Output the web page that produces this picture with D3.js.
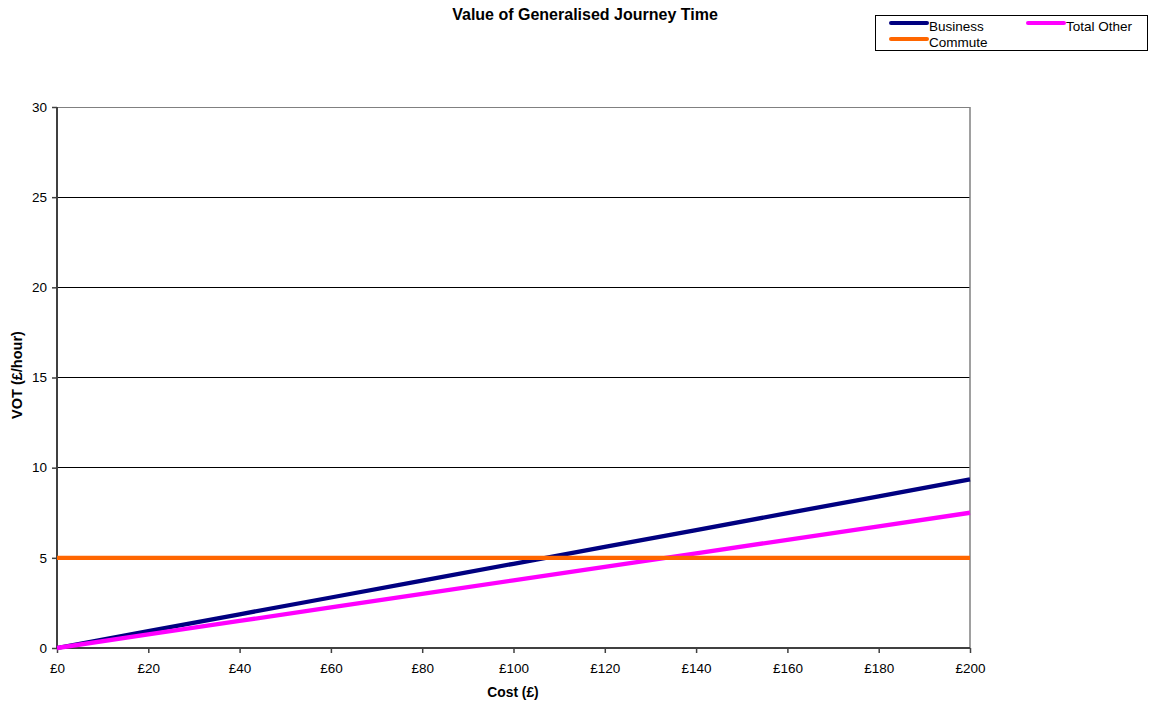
<!DOCTYPE html>
<html><head><meta charset="utf-8">
<script src="https://cdn.jsdelivr.net/npm/d3@7"></script>
<style>body{margin:0;background:#fff;font-family:"Liberation Sans",Arial,sans-serif;}</style>
</head><body>
<svg id="c" width="1149" height="703"></svg>
<script>
const costs = [0,20,40,60,80,100,120,140,160,180,200];
const business = [0,0.93,1.87,2.80,3.74,4.67,5.61,6.54,7.48,8.41,9.35];
const totalOther = [0,0.75,1.5,2.25,3.0,3.75,4.5,5.25,6.0,6.75,7.5];
const commute = [5,5,5,5,5,5,5,5,5,5,5];
const yTicks = [0,5,10,15,20,25,30];
const xTickLabels = costs.map(d=>"£"+d);

const svg = d3.select("#c");
const FF = "Liberation Sans, Arial, sans-serif";
svg.attr("font-family",FF);
const L=57,R=970,T=107,B=648;
const x = d3.scaleLinear().domain([0,200]).range([L,R]);
const y = d3.scaleLinear().domain([0,30]).range([B,T]);

// gridlines
svg.append("g").selectAll("line").data(yTicks.filter(d=>d>0)).join("line")
  .attr("x1",L).attr("x2",R).attr("y1",d=>y(d)).attr("y2",d=>y(d))
  .attr("stroke",d=>d===30?"#808080":"#000").attr("stroke-width",1).attr("shape-rendering","crispEdges");
// right border
svg.append("line").attr("x1",R).attr("x2",R).attr("y1",T).attr("y2",B).attr("stroke","#808080").attr("stroke-width",1.5);

// axes
const yAxis = d3.axisLeft(y).tickValues(yTicks).tickSize(5).tickPadding(5);
const gy = svg.append("g").attr("transform",`translate(${L},0)`).call(yAxis);
const xAxis = d3.axisBottom(x).tickValues(costs).tickFormat((d,i)=>xTickLabels[i]).tickSize(5).tickPadding(10);
const gx = svg.append("g").attr("transform",`translate(0,${B})`).call(xAxis);
[gx,gy].forEach(g=>{
  g.attr("font-family",FF).attr("font-size",13.5);
  g.select(".domain").attr("stroke","#404040").attr("stroke-width",2);
  g.selectAll(".tick line").attr("stroke","#404040").attr("stroke-width",1.5);
  g.selectAll("text").attr("fill","#000");
});
gy.select(".domain").attr("d",`M0,${T}V${B}`);
gx.select(".domain").attr("d",`M${L},0H${R}`);

const series = [
  {name:"Business", vals:business, color:"#000080"},
  {name:"Total Other", vals:totalOther, color:"#FF00FF"},
  {name:"Commute", vals:commute, color:"#FF6600"}
];
const line = d3.line().x((d,i)=>x(costs[i])).y(d=>y(d));
series.forEach(s=>{
  svg.append("path").datum(s.vals).attr("d",line).attr("fill","none")
    .attr("stroke",s.color).attr("stroke-width",4.3);
});

// title and axis labels
svg.append("text").attr("x",585).attr("y",20).attr("text-anchor","middle")
  .attr("font-size",16).attr("font-weight","bold").text("Value of Generalised Journey Time");
svg.append("text").attr("x",513).attr("y",697).attr("text-anchor","middle")
  .attr("font-size",13.8).attr("font-weight","bold").text("Cost (£)");
svg.append("text").attr("transform","translate(21.5,375) rotate(-90)").attr("text-anchor","middle")
  .attr("font-size",14.5).attr("font-weight","bold").text("VOT (£/hour)");

// legend
const lg = svg.append("g");
lg.append("rect").attr("x",875.5).attr("y",15.5).attr("width",272).attr("height",35)
  .attr("fill","#fff").attr("stroke","#000").attr("stroke-width",1);
const legItems = [
  {name:"Business", color:"#000080", x:891, y:23},
  {name:"Total Other", color:"#FF00FF", x:1028, y:23},
  {name:"Commute", color:"#FF6600", x:891, y:39}
];
legItems.forEach(d=>{
  lg.append("line").attr("x1",d.x).attr("x2",d.x+36).attr("y1",d.y).attr("y2",d.y)
    .attr("stroke",d.color).attr("stroke-width",4).attr("stroke-linecap","round");
  lg.append("text").attr("x",d.x+38).attr("y",d.y+7.5).attr("font-size",13.5).text(d.name);
});
</script>
</body></html>
